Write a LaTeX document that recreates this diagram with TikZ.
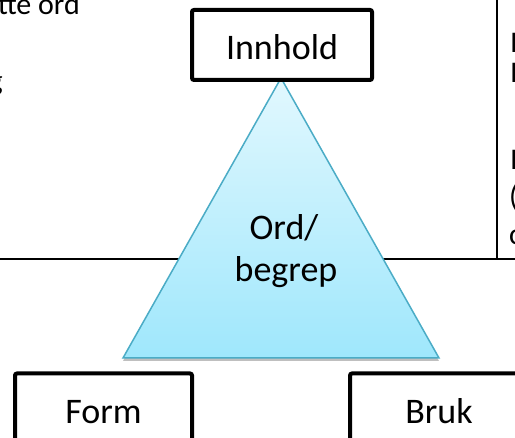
\documentclass[tikz,border=0pt]{standalone}
\usepackage{fontspec}
\setmainfont{Carlito}
\usetikzlibrary{shadows}
\definecolor{triedge}{HTML}{4BACC6}
\definecolor{tritop}{HTML}{E2F8FE}
\definecolor{tribot}{HTML}{9FE7FC}
\begin{document}
\begin{tikzpicture}[x=1pt,y=-1pt,
  labelbox/.style={draw=black,line width=4pt,rounded corners=2pt,minimum width=177pt,
    minimum height=70pt,inner sep=0pt,fill=white,text height=30pt,text depth=0pt,
    font=\fontsize{36}{42}\selectfont},
  bigtext/.style={inner sep=0pt,anchor=base,font=\fontsize{36}{42}\selectfont},
  sidetext/.style={font=\fontsize{30}{36}\selectfont,inner sep=0pt,anchor=base west},
  rule/.style={draw=black,line width=2pt}]
\useasboundingbox (0,0) rectangle (515,438);
\clip (0,0) rectangle (515,438);
\fill[white] (0,0) rectangle (515,438);
% frame lines
\coordinate (hl) at (0,259);
\coordinate (hr) at (515,259);
\coordinate (vt) at (496.5,-2);
\coordinate (vb) at (496.5,259);
\draw[rule] (hl) -- (hr);
\draw[rule] (vt) -- (vb);
% side texts (cut off)
\node[sidetext,anchor=base east] (tl1) at (80,15) {tte ord};
\node[sidetext,anchor=base east] (tl2) at (3,91) {g};
\node[sidetext] (r1) at (510,53) {I};
\node[sidetext] (r2) at (510,83) {I};
\node[sidetext] (r3) at (510,170) {I};
\node[sidetext] (r4) at (509,207) {(};
\node[sidetext] (r5) at (509,245) {c};
% triangle
\coordinate (apex) at (281,78);
\coordinate (bl) at (123,358);
\coordinate (br) at (439,358);
\path[draw=triedge,line width=1.5pt,top color=tritop,bottom color=tribot,
  drop shadow={shadow xshift=0pt,shadow yshift=-3pt,opacity=0.25,fill=black}]
  (apex) -- (bl) -- (br) -- cycle;
\node[bigtext] (ord1) at (284,240) {Ord/};
\node[bigtext] (ord2) at (286,282) {begrep};
% boxes
\node[labelbox,minimum width=180pt] (innhold) at (282,45) {Innhold};
\node[labelbox] (form) at (103.5,408.5) {Form};
\node[labelbox,minimum width=178pt] (bruk) at (439,408.5) {Bruk};
\end{tikzpicture}
\end{document}
